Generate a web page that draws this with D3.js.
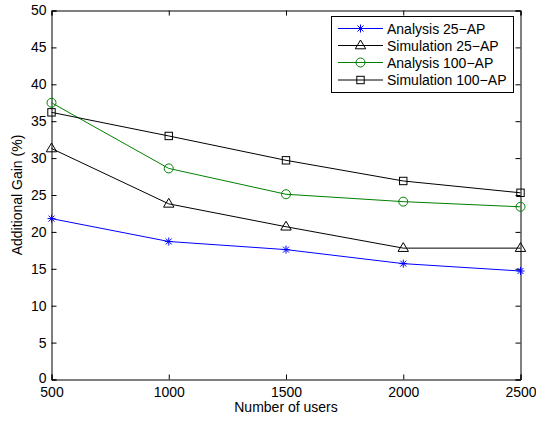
<!DOCTYPE html>
<html>
<head>
<meta charset="utf-8">
<script src="https://cdn.jsdelivr.net/npm/d3@7"></script>
<style>
  html, body { margin: 0; padding: 0; background: #fff; }
  svg { display: block; font-family: "Liberation Sans", Arial, Helvetica, sans-serif; }
</style>
</head>
<body>
<svg id="chart" width="536" height="421"></svg>
<script>
// Number of users on the x axis
const users = [500, 1000, 1500, 2000, 2500];

// Additional gain (%) per series
const analysis25 = [21.8, 18.7, 17.6, 15.7, 14.7];
const simulation25 = [31.3, 23.8, 20.7, 17.8, 17.8];
const analysis100 = [37.5, 28.6, 25.1, 24.1, 23.4];
const simulation100 = [36.2, 33.0, 29.7, 26.9, 25.3];

const xTicks = [500, 1000, 1500, 2000, 2500];
const yTicks = [0, 5, 10, 15, 20, 25, 30, 35, 40, 45, 50];

const seriesNames = ["Analysis 25\u2212AP", "Simulation 25\u2212AP", "Analysis 100\u2212AP", "Simulation 100\u2212AP"];
const seriesValues = [analysis25, simulation25, analysis100, simulation100];
const seriesColors = ["#0000ff", "#000000", "#008000", "#000000"];
const seriesMarkers = ["star", "triangle", "circle", "square"];

const svg = d3.select("#chart");
const plotLeft = 51.5, plotRight = 520.5, plotTop = 10.5, plotBottom = 379.5;

const x = d3.scaleLinear().domain([500, 2500]).range([plotLeft, plotRight]);
const y = d3.scaleLinear().domain([0, 50]).range([plotBottom, plotTop]);

const tickLen = 5;
const fontSize = 14;

// Axes: ticks point inward, mirrored on top and right
const axB = d3.axisBottom(x).tickValues(xTicks).tickSize(-tickLen).tickPadding(8).tickFormat(d3.format("d"));
const axT = d3.axisTop(x).tickValues(xTicks).tickSize(-tickLen).tickFormat("");
const axL = d3.axisLeft(y).tickValues(yTicks).tickSize(-tickLen).tickPadding(5).tickFormat(d3.format("d"));
const axR = d3.axisRight(y).tickValues(yTicks).tickSize(-tickLen).tickFormat("");

function styleAxis(g) {
  g.select(".domain").attr("stroke", "#000").attr("stroke-width", 1);
  g.selectAll(".tick line").attr("stroke", "#000").attr("stroke-width", 1);
  g.selectAll(".tick text").attr("fill", "#000").attr("font-size", fontSize)
    .attr("font-family", "Liberation Sans, Arial, sans-serif");
}

svg.append("g").attr("transform", `translate(0,${plotBottom})`).call(axB).call(styleAxis);
svg.append("g").attr("transform", `translate(0,${plotTop})`).call(axT).call(styleAxis);
const gLeft = svg.append("g").attr("transform", `translate(${plotLeft},0)`).call(axL).call(styleAxis);
// keep the bottom "0" label clear of the "500" label beneath it
gLeft.selectAll(".tick").filter(d => d === 0).select("text").attr("dy", "0.22em");

// Axis titles
svg.append("text")
  .attr("x", (plotLeft + plotRight) / 2).attr("y", 412)
  .attr("text-anchor", "middle").attr("font-size", 14).attr("fill", "#000")
  .text("Number of users");
svg.append("text")
  .attr("transform", `translate(22,${(plotTop + plotBottom) / 2}) rotate(-90)`)
  .attr("text-anchor", "middle").attr("font-size", 14).attr("fill", "#000")
  .text("Additional Gain (%)");

svg.append("g").attr("transform", `translate(${plotRight},0)`).call(axR).call(styleAxis);

// Marker drawing
function drawMarker(g, type, cx, cy, color) {
  if (type === "star") {
    const r = 4;
    const p = [
      [cx - r, cy, cx + r, cy],
      [cx, cy - r, cx, cy + r],
      [cx - r * 0.75, cy - r * 0.75, cx + r * 0.75, cy + r * 0.75],
      [cx - r * 0.75, cy + r * 0.75, cx + r * 0.75, cy - r * 0.75]
    ];
    p.forEach(s => g.append("line").attr("x1", s[0]).attr("y1", s[1]).attr("x2", s[2]).attr("y2", s[3])
      .attr("stroke", color).attr("stroke-width", 1));
  } else if (type === "triangle") {
    const r = 5.5;
    g.append("path")
      .attr("d", `M${cx},${cy - r} L${cx + r * 0.95},${cy + r * 0.6} L${cx - r * 0.95},${cy + r * 0.6} Z`)
      .attr("fill", "none").attr("stroke", color).attr("stroke-width", 1);
  } else if (type === "circle") {
    g.append("circle").attr("cx", cx).attr("cy", cy).attr("r", 4.5)
      .attr("fill", "none").attr("stroke", color).attr("stroke-width", 1);
  } else if (type === "square") {
    const s = 3.7;
    g.append("rect").attr("x", cx - s).attr("y", cy - s).attr("width", 2 * s).attr("height", 2 * s)
      .attr("fill", "none").attr("stroke", color).attr("stroke-width", 1);
  }
}

const line = d3.line().x((d, i) => x(users[i])).y(d => y(d));

seriesValues.forEach((vals, k) => {
  const g = svg.append("g");
  g.append("path").datum(vals).attr("d", line)
    .attr("fill", "none").attr("stroke", seriesColors[k]).attr("stroke-width", 1);
  vals.forEach((v, i) => drawMarker(g, seriesMarkers[k], x(users[i]), y(v), seriesColors[k]));
});

// Legend
const lg = svg.append("g");
lg.append("rect").attr("x", 331.5).attr("y", 16.5).attr("width", 182).attr("height", 76)
  .attr("fill", "#fff").attr("stroke", "#000").attr("stroke-width", 1);
const rowY = [28.5, 45.5, 62.5, 80];
seriesNames.forEach((name, k) => {
  const yy = rowY[k];
  lg.append("line").attr("x1", 338).attr("x2", 383).attr("y1", yy).attr("y2", yy)
    .attr("stroke", seriesColors[k]).attr("stroke-width", 1);
  drawMarker(lg, seriesMarkers[k], 360.5, yy, seriesColors[k]);
  lg.append("text").attr("x", 387).attr("y", yy + 5)
    .attr("font-size", 14).attr("fill", "#000").text(name);
});
</script>
</body>
</html>
